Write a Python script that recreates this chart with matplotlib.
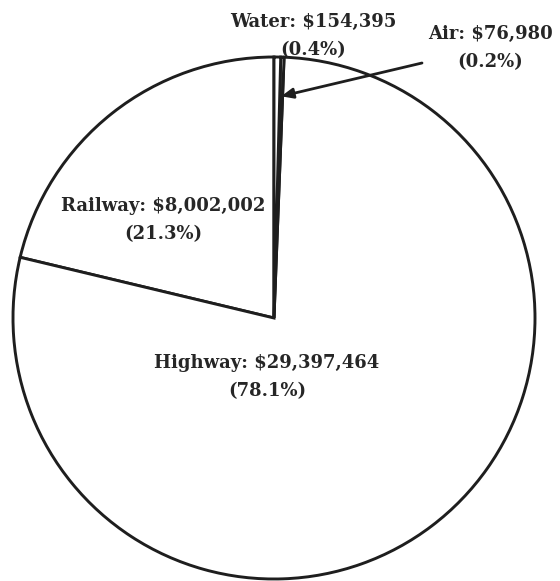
import numpy as np
import matplotlib
matplotlib.use("Agg")
import matplotlib.pyplot as plt

# Freight spending by mode (dollars)
modes = ["Railway", "Highway", "Air", "Water"]
amounts = [8002002, 29397464, 76980, 154395]
pct_labels = ["21.3%", "78.1%", "0.2%", "0.4%"]

W, H = 560, 581
CX, CY, R = 274, 318, 261   # pie centre and radius in pixels


def px(x, y):
    """Pixel position (from top-left) -> pie data units."""
    return (x - CX) / R, (CY - y) / R


fig = plt.figure(figsize=(W / 100, H / 100), dpi=100)
ax = fig.add_axes([0, 0, 1, 1])

ink = "#1e1e1e"
wedges, _ = ax.pie(
    amounts,
    startangle=90,
    counterclock=True,
    radius=1.0,
    center=(0, 0),
    wedgeprops=dict(facecolor="white", edgecolor=ink, linewidth=2.1),
    frame=True,
)
ax.set_xlim(-CX / R, (W - CX) / R)
ax.set_ylim((CY - H) / R, CY / R)
ax.set_aspect("equal")
ax.axis("off")

font = dict(family="DejaVu Serif", fontsize=13, fontweight="bold",
            color="#262626", ha="center", va="center", linespacing=1.7)

label_pos = {
    "Water": (313, 36),
    "Air": (490, 48),
    "Railway": (163, 220),
    "Highway": (267, 377),
}
for name, amt, pct in zip(modes, amounts, pct_labels):
    x, y = px(*label_pos[name])
    ax.text(x, y, f"{name}: ${amt:,}\n({pct})", **font)

# Arrow from the Air label to its thin wedge
air = wedges[modes.index("Air")]
mid = np.deg2rad((air.theta1 + air.theta2) / 2)
tip = (0.85 * np.cos(mid), 0.85 * np.sin(mid))
ax.annotate("", xy=tip, xytext=px(422, 63),
            arrowprops=dict(arrowstyle="-|>,head_length=0.7,head_width=0.3",
                            color=ink, lw=2.0, shrinkA=0, shrinkB=0))

fig.savefig("out.png", dpi=100, facecolor="white")
